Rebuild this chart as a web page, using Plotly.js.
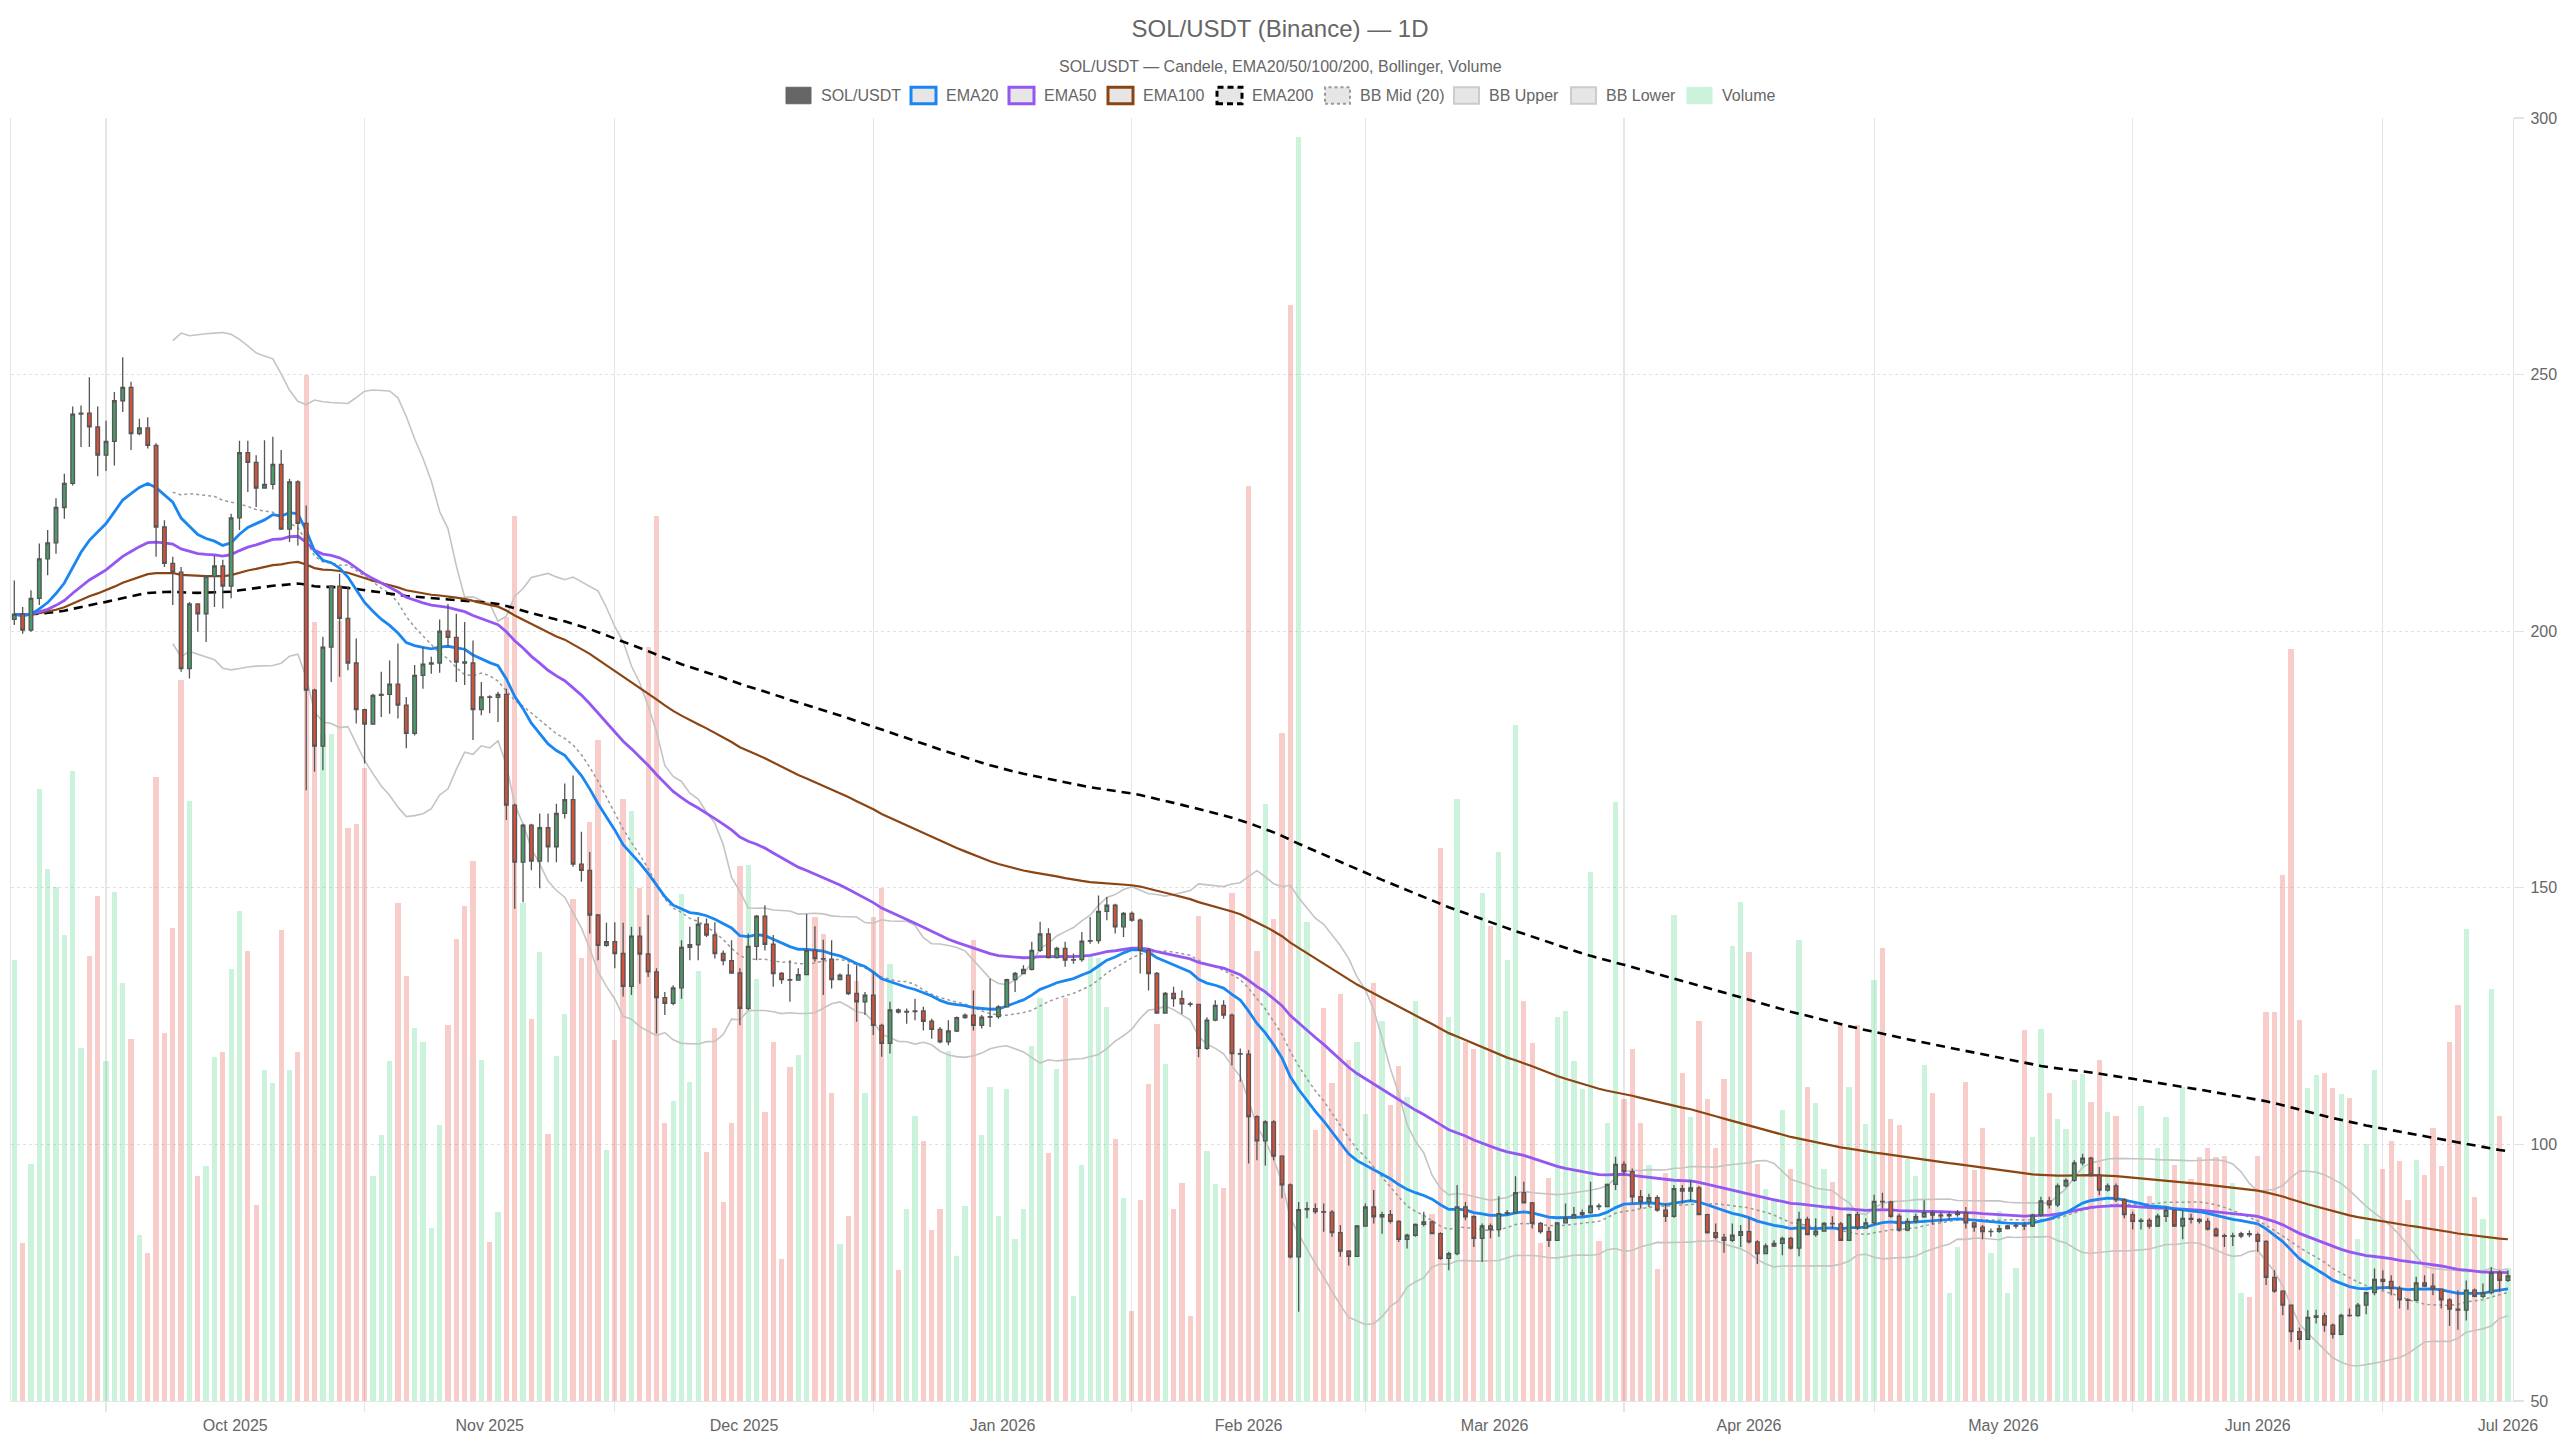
<!DOCTYPE html>
<html><head><meta charset="utf-8">
<script src="https://cdn.plot.ly/plotly-3.0.1.min.js"></script>
<style>html,body{margin:0;padding:0;background:#fff}#chart{width:2560px;height:1440px}</style>
</head><body><div id="chart"></div>
<script>
// ---------------- DATA ----------------
const dates = [
"2025-09-20","2025-09-21","2025-09-22","2025-09-23","2025-09-24","2025-09-25","2025-09-26","2025-09-27","2025-09-28","2025-09-29","2025-09-30",
"2025-10-01","2025-10-02","2025-10-03","2025-10-04","2025-10-05","2025-10-06","2025-10-07","2025-10-08","2025-10-09","2025-10-10","2025-10-11","2025-10-12","2025-10-13","2025-10-14","2025-10-15","2025-10-16","2025-10-17","2025-10-18","2025-10-19","2025-10-20","2025-10-21","2025-10-22","2025-10-23","2025-10-24","2025-10-25","2025-10-26","2025-10-27","2025-10-28","2025-10-29","2025-10-30","2025-10-31",
"2025-11-01","2025-11-02","2025-11-03","2025-11-04","2025-11-05","2025-11-06","2025-11-07","2025-11-08","2025-11-09","2025-11-10","2025-11-11","2025-11-12","2025-11-13","2025-11-14","2025-11-15","2025-11-16","2025-11-17","2025-11-18","2025-11-19","2025-11-20","2025-11-21","2025-11-22","2025-11-23","2025-11-24","2025-11-25","2025-11-26","2025-11-27","2025-11-28","2025-11-29","2025-11-30",
"2025-12-01","2025-12-02","2025-12-03","2025-12-04","2025-12-05","2025-12-06","2025-12-07","2025-12-08","2025-12-09","2025-12-10","2025-12-11","2025-12-12","2025-12-13","2025-12-14","2025-12-15","2025-12-16","2025-12-17","2025-12-18","2025-12-19","2025-12-20","2025-12-21","2025-12-22","2025-12-23","2025-12-24","2025-12-25","2025-12-26","2025-12-27","2025-12-28","2025-12-29","2025-12-30","2025-12-31",
"2026-01-01","2026-01-02","2026-01-03","2026-01-04","2026-01-05","2026-01-06","2026-01-07","2026-01-08","2026-01-09","2026-01-10","2026-01-11","2026-01-12","2026-01-13","2026-01-14","2026-01-15","2026-01-16","2026-01-17","2026-01-18","2026-01-19","2026-01-20","2026-01-21","2026-01-22","2026-01-23","2026-01-24","2026-01-25","2026-01-26","2026-01-27","2026-01-28","2026-01-29","2026-01-30","2026-01-31",
"2026-02-01","2026-02-02","2026-02-03","2026-02-04","2026-02-05","2026-02-06","2026-02-07","2026-02-08","2026-02-09","2026-02-10","2026-02-11","2026-02-12","2026-02-13","2026-02-14","2026-02-15","2026-02-16","2026-02-17","2026-02-18","2026-02-19","2026-02-20","2026-02-21","2026-02-22","2026-02-23","2026-02-24","2026-02-25","2026-02-26","2026-02-27","2026-02-28",
"2026-03-01","2026-03-02","2026-03-03","2026-03-04","2026-03-05","2026-03-06","2026-03-07","2026-03-08","2026-03-09","2026-03-10","2026-03-11","2026-03-12","2026-03-13","2026-03-14","2026-03-15","2026-03-16","2026-03-17","2026-03-18","2026-03-19","2026-03-20","2026-03-21","2026-03-22","2026-03-23","2026-03-24","2026-03-25","2026-03-26","2026-03-27","2026-03-28","2026-03-29","2026-03-30","2026-03-31",
"2026-04-01","2026-04-02","2026-04-03","2026-04-04","2026-04-05","2026-04-06","2026-04-07","2026-04-08","2026-04-09","2026-04-10","2026-04-11","2026-04-12","2026-04-13","2026-04-14","2026-04-15","2026-04-16","2026-04-17","2026-04-18","2026-04-19","2026-04-20","2026-04-21","2026-04-22","2026-04-23","2026-04-24","2026-04-25","2026-04-26","2026-04-27","2026-04-28","2026-04-29","2026-04-30",
"2026-05-01","2026-05-02","2026-05-03","2026-05-04","2026-05-05","2026-05-06","2026-05-07","2026-05-08","2026-05-09","2026-05-10","2026-05-11","2026-05-12","2026-05-13","2026-05-14","2026-05-15","2026-05-16","2026-05-17","2026-05-18","2026-05-19","2026-05-20","2026-05-21","2026-05-22","2026-05-23","2026-05-24","2026-05-25","2026-05-26","2026-05-27","2026-05-28","2026-05-29","2026-05-30","2026-05-31",
"2026-06-01","2026-06-02","2026-06-03","2026-06-04","2026-06-05","2026-06-06","2026-06-07","2026-06-08","2026-06-09","2026-06-10","2026-06-11","2026-06-12","2026-06-13","2026-06-14","2026-06-15","2026-06-16","2026-06-17","2026-06-18","2026-06-19","2026-06-20","2026-06-21","2026-06-22","2026-06-23","2026-06-24","2026-06-25","2026-06-26","2026-06-27","2026-06-28","2026-06-29","2026-06-30",
"2026-07-01","2026-07-02","2026-07-03","2026-07-04","2026-07-05","2026-07-06","2026-07-07","2026-07-08","2026-07-09","2026-07-10","2026-07-11","2026-07-12","2026-07-13","2026-07-14","2026-07-15","2026-07-16"
];

const opens = [
202.3,203.3,200.2,206.4,214.1,217.2,224.1,228.8,242.3,242.5,
239.8,234.3,237.0,244.9,247.5,238.5,239.6,236.2,220.3,213.2,
211.5,192.7,205.3,203.4,210.7,212.7,208.8,222.1,234.8,232.9,
227.9,228.6,232.5,219.9,229.1,221.0,188.5,177.6,196.9,208.8,
202.5,193.8,184.7,181.9,187.5,187.7,189.7,185.6,180.1,191.4,
193.6,193.8,200.0,198.8,194.0,193.8,184.7,187.2,187.1,187.7,
166.1,155.0,162.2,155.2,161.7,158.0,164.5,167.2,154.6,153.4,
144.7,138.8,139.5,137.2,130.8,140.6,137.1,133.6,128.6,127.5,
130.5,138.4,138.9,142.9,140.8,137.2,135.8,133.4,126.5,138.6,
144.5,139.0,133.3,132.1,132.0,133.1,137.8,136.2,136.1,132.1,
133.0,129.4,127.8,129.1,123.2,119.7,126.2,125.8,125.9,126.0,
124.0,122.4,120.0,122.1,124.7,125.2,123.2,124.8,124.9,126.8,
132.1,133.3,134.1,137.8,141.0,136.4,138.2,135.9,136.0,139.6,
139.7,145.4,146.6,142.4,145.0,143.7,137.8,133.3,125.6,129.4,
128.4,127.4,127.3,118.7,124.2,127.1,125.2,117.7,117.6,105.4,
100.7,104.4,97.7,92.1,78.1,87.3,87.5,86.9,86.8,82.8,
79.2,78.2,84.1,87.8,85.9,86.3,85.0,81.5,82.3,84.4,
84.9,82.6,77.8,78.7,87.8,85.9,81.7,84.1,83.4,86.5,
86.7,90.6,88.6,84.6,83.0,81.3,84.7,85.7,86.3,86.7,
88.0,87.9,92.2,96.1,94.7,89.8,88.8,89.6,87.2,86.0,
91.4,90.9,91.5,86.3,82.8,81.9,81.3,82.3,83.0,81.0,
78.7,80.2,80.7,81.7,79.8,85.4,82.4,83.1,84.6,84.5,
81.3,86.3,83.7,84.7,88.9,88.8,86.0,83.3,85.0,85.9,
86.7,86.2,86.1,86.3,86.7,84.7,83.9,83.0,83.05,83.6,
84.1,84.2,84.1,86.2,89.0,88.2,91.9,93.0,96.4,97.3,
94.0,91.1,91.9,89.2,86.3,85.0,85.2,84.1,86.0,87.2,
84.1,85.6,85.4,85.0,83.5,82.2,82.1,82.15,82.6,82.4,
81.1,74.1,71.4,68.7,63.5,62.0,66.3,66.6,64.8,63.0,
66.7,66.65,68.7,71.1,73.7,73.3,71.9,69.7,69.6,73.0,
72.4,71.8,69.7,67.9,67.7,71.6,70.4,71.1,75.0,73.5
];

const highs = [
209.9,204.7,208.0,217.1,219.7,225.9,230.7,243.8,244.0,249.5,
243.8,241.0,246.6,253.4,248.6,241.4,241.7,236.6,221.6,214.5,
212.5,205.7,205.3,210.9,214.7,213.9,222.9,237.1,237.1,234.3,
237.2,237.9,235.3,229.7,229.4,224.5,188.8,198.9,209.0,211.2,
208.6,198.6,184.9,187.8,192.1,194.3,197.6,187.2,193.4,196.9,
195.0,202.3,205.3,203.4,201.8,198.2,190.1,187.5,188.2,188.8,
166.4,162.5,162.5,164.5,164.5,166.4,170.3,171.9,160.9,157.0,
144.9,143.2,143.3,143.2,142.4,142.4,144.7,134.3,129.7,131.0,
139.8,142.4,144.3,144.0,143.3,137.8,139.8,134.3,141.1,144.7,
146.6,140.8,133.6,135.9,134.3,144.9,142.5,139.9,139.8,133.3,
135.2,134.9,129.7,133.6,123.5,127.8,126.5,126.5,128.4,126.8,
124.5,122.9,124.2,124.9,125.5,130.0,125.2,132.3,127.1,132.3,
133.6,134.9,139.5,143.4,142.1,138.5,139.5,137.2,141.4,144.3,
148.5,148.2,146.9,145.3,145.4,144.0,138.2,133.6,129.7,130.7,
130.0,127.8,127.4,124.8,128.1,128.1,125.5,118.7,118.4,105.7,
104.7,104.7,97.9,92.4,88.8,88.8,88.5,88.5,87.2,84.3,
79.4,84.3,88.5,91.1,86.9,87.2,85.2,82.6,84.6,86.9,
85.2,82.9,79.1,92.1,88.8,86.2,84.6,84.6,89.9,87.2,
93.8,92.7,88.8,84.9,83.9,84.9,88.5,87.8,87.3,92.7,
88.5,92.4,97.6,96.7,95.3,91.1,90.4,90.1,88.5,92.1,
92.1,93.0,91.9,86.5,84.6,82.6,84.6,84.3,85.6,81.3,
80.7,81.3,82.0,82.0,86.9,85.9,85.6,84.9,86.0,84.9,
86.5,86.9,85.6,90.2,90.6,89.0,86.5,85.6,86.5,89.1,
87.2,86.9,86.9,87.2,87.8,84.9,84.3,83.6,84.3,84.3,
84.6,84.9,86.5,89.8,89.8,92.4,93.4,96.9,98.2,97.6,
95.6,92.4,92.4,89.5,86.9,85.6,85.6,86.5,87.8,87.3,
87.2,86.5,85.6,85.6,83.8,82.6,82.8,83.0,83.2,82.8,
81.3,75.5,71.6,68.8,64.3,67.7,67.8,67.2,65.1,67.0,
68.0,69.1,71.3,75.8,75.5,74.5,72.4,70.0,74.2,74.5,
74.8,71.9,70.0,71.6,73.5,71.9,72.9,76.1,75.5,75.5
];

const lows = [
201.2,199.5,199.9,205.1,210.9,215.1,221.9,228.4,235.9,235.9,
230.2,231.2,232.3,242.7,235.3,238.2,235.6,214.5,212.5,205.1,
192.1,190.8,199.9,197.9,204.7,204.4,206.4,219.7,227.1,224.2,
227.8,227.6,219.7,217.4,216.7,169.0,172.6,172.9,190.1,191.1,
192.4,182.0,174.2,181.7,183.3,183.9,183.0,177.2,179.7,188.8,
191.7,191.9,196.9,190.1,189.5,178.8,183.6,184.0,182.3,163.2,
145.9,147.2,153.4,149.9,155.0,155.0,163.5,154.1,151.2,141.1,
135.9,138.5,134.3,128.8,129.1,131.3,132.6,121.6,125.2,127.1,
128.4,135.9,135.9,140.4,136.2,134.9,133.3,123.2,126.2,135.9,
137.8,130.7,131.3,127.8,131.9,133.0,135.6,129.1,130.4,132.0,
129.1,123.9,125.2,121.3,117.1,117.7,125.5,123.5,124.2,122.2,
120.6,119.7,119.3,121.9,124.5,122.2,122.6,122.9,124.5,126.7,
129.7,133.2,133.9,137.5,136.2,136.2,134.6,135.2,135.6,139.1,
139.1,143.7,141.1,140.4,143.4,133.3,130.0,125.5,125.5,126.8,
125.4,126.8,117.0,118.4,124.0,124.5,115.4,112.2,96.3,96.9,
95.9,96.9,89.5,77.8,67.4,85.6,86.5,83.0,82.0,78.1,
76.4,78.1,84.0,84.6,82.6,84.6,81.0,79.7,82.0,84.0,
82.5,77.5,75.5,78.4,85.2,80.0,77.1,81.7,82.0,86.2,
86.5,88.5,83.6,82.6,80.0,81.2,84.6,85.6,85.9,86.5,
87.2,87.8,91.1,94.0,88.5,87.5,87.8,86.9,84.9,85.7,
88.5,88.8,86.2,82.6,81.5,78.9,81.0,80.0,80.7,76.7,
78.6,80.0,78.4,79.5,78.2,82.3,82.0,83.0,83.6,81.2,
81.2,83.3,83.6,84.3,87.5,85.7,83.0,83.1,84.6,85.7,
84.4,84.9,85.4,85.9,83.6,83.0,81.5,82.0,82.8,83.4,
83.6,83.3,83.9,85.9,87.5,87.8,91.6,92.7,95.9,93.7,
90.1,90.8,88.8,85.6,83.4,83.4,83.6,83.9,84.9,83.9,
81.5,84.6,84.6,83.2,82.0,80.0,80.2,81.7,81.9,79.1,
72.6,71.1,66.7,61.5,60.0,61.9,65.1,63.5,62.2,62.8,
66.4,66.4,66.9,70.6,71.6,70.6,68.0,67.8,69.5,72.2,
70.6,68.0,64.6,63.9,65.7,70.2,70.0,70.8,71.3,73.2
];

const closes = [
203.3,200.2,206.4,214.1,217.2,224.1,228.8,242.3,242.5,239.8,
234.3,237.0,244.9,247.5,238.5,239.6,236.2,220.3,213.2,211.5,
192.7,205.3,203.4,210.7,212.7,208.8,222.1,234.8,232.9,227.9,
228.6,232.5,219.9,229.1,221.0,188.5,177.6,196.9,208.8,202.5,
193.8,184.7,181.9,187.5,187.7,189.7,185.6,180.1,191.4,193.6,
193.8,200.0,198.8,194.0,193.8,184.7,187.2,187.1,187.7,166.1,
155.0,162.2,155.2,161.7,158.0,164.5,167.2,154.6,153.4,144.7,
138.8,139.5,137.2,130.8,140.6,137.1,133.6,128.6,127.5,130.5,
138.4,138.9,142.9,140.8,137.2,135.8,133.4,126.5,138.6,144.5,
139.0,133.3,132.1,132.0,133.1,137.8,136.2,136.1,132.1,133.0,
129.4,127.8,129.1,123.2,119.7,126.2,125.8,125.9,126.0,124.0,
122.4,120.0,122.1,124.7,125.2,123.2,124.8,124.9,126.8,132.1,
133.3,134.1,137.8,141.0,136.4,138.2,135.9,136.0,139.6,139.7,
145.4,146.6,142.4,145.0,143.7,137.8,133.3,125.6,129.4,128.4,
127.4,127.3,118.7,124.2,127.1,125.2,117.7,117.6,105.4,100.7,
104.4,97.7,92.1,78.1,87.3,87.5,86.9,86.8,82.8,79.2,
78.2,84.1,87.8,85.9,86.3,85.0,81.5,82.3,84.4,84.9,
82.6,77.8,78.7,87.8,85.9,81.7,84.1,83.4,86.5,86.7,
90.6,88.6,84.6,83.0,81.3,84.7,85.7,86.3,86.7,88.0,
87.9,92.2,96.1,94.7,89.8,88.8,89.6,87.2,86.0,91.4,
90.9,91.5,86.3,82.8,81.9,81.3,82.3,83.0,81.0,78.7,
80.2,80.7,81.7,79.8,85.4,82.4,83.1,84.6,84.5,81.3,
86.3,83.7,84.7,88.9,88.8,86.0,83.3,85.0,85.9,86.7,
86.2,86.1,86.3,86.7,84.7,83.9,83.0,83.05,83.6,84.1,
84.2,84.1,86.2,89.0,88.2,91.9,93.0,96.4,97.3,94.0,
91.1,91.9,89.2,86.3,85.0,85.2,84.1,86.0,87.2,84.1,
85.6,85.4,85.0,83.5,82.2,82.1,82.15,82.6,82.4,81.1,
74.1,71.4,68.7,63.5,62.0,66.3,66.6,64.8,63.0,66.7,
66.65,68.7,71.1,73.7,73.3,71.9,69.7,69.6,73.0,72.4,
71.8,69.7,67.9,67.7,71.6,70.4,71.1,75.0,73.5,74.4
];

// volume (millions SOL)
const volumes = [
3.44,1.23,1.85,4.77,4.15,4.01,3.63,4.91,2.75,3.47,
3.94,2.65,3.97,3.26,2.82,1.29,1.15,4.86,2.87,3.69,
5.62,4.68,1.75,1.83,2.68,2.72,3.37,3.82,3.51,1.53,
2.58,2.48,3.67,2.58,2.72,8.00,6.07,5.20,5.20,6.08,
4.47,4.50,4.93,1.75,2.07,2.65,3.88,3.31,2.91,2.80,
1.35,2.15,2.93,3.60,3.86,4.21,2.66,1.24,1.47,6.11,
6.90,3.88,2.98,3.50,2.08,2.69,3.02,3.91,3.45,4.51,
5.15,1.96,2.81,4.69,4.60,4.00,5.88,6.90,2.17,2.34,
3.95,2.49,3.35,1.94,2.91,1.55,2.17,4.17,4.18,3.29,
2.25,2.80,1.11,2.60,2.70,3.42,3.77,3.64,2.40,1.22,
1.44,3.27,2.40,3.77,4.00,3.41,1.02,1.50,2.22,2.03,
1.33,1.50,2.73,1.13,1.52,3.59,2.07,2.45,1.44,2.43,
1.26,1.50,2.77,3.14,1.93,2.59,3.14,0.82,1.84,3.47,
3.45,3.07,2.04,1.58,0.70,1.57,2.47,2.94,2.63,1.50,
1.70,0.66,3.78,1.95,1.69,1.66,3.96,2.50,7.13,3.51,
4.65,3.76,5.21,8.54,9.85,3.73,2.11,3.06,2.48,3.17,
2.66,2.80,2.24,3.26,2.96,2.31,2.61,2.37,3.12,1.46,
1.46,4.31,2.99,4.69,2.80,2.74,3.96,3.70,4.28,3.44,
5.27,3.12,2.79,1.23,1.74,2.99,3.04,2.65,2.43,4.12,
1.25,2.17,4.67,2.35,2.74,2.17,1.84,1.03,1.78,3.79,
2.56,2.21,2.96,2.35,1.97,2.51,3.55,3.89,3.50,1.85,
1.65,1.58,2.27,1.81,3.59,2.45,2.32,1.81,1.71,2.93,
2.45,2.93,2.16,3.28,3.53,2.20,2.15,1.89,1.75,2.62,
2.40,1.49,0.84,1.20,2.49,1.80,2.13,1.15,1.48,0.84,
1.04,2.89,2.06,2.90,2.40,2.20,2.12,2.50,2.55,2.33,
2.66,2.25,2.22,1.58,1.50,2.30,1.60,1.97,2.21,1.84,
2.45,1.73,1.90,1.97,1.90,1.91,1.70,0.84,0.81,1.91,
3.03,3.03,4.10,5.86,2.97,2.44,2.54,2.56,2.44,2.39,
2.36,1.26,2.00,2.58,1.81,2.03,1.87,1.57,1.88,1.76,
2.13,1.83,2.80,3.09,3.68,1.59,1.42,3.21,2.22,1.04
];

const priceTicks = [50, 100, 150, 200, 250, 300];
const titleText = 'SOL/USDT (Binance) — 1D';
const subtitleText = 'SOL/USDT — Candele, EMA20/50/100/200, Bollinger, Volume';
const legendLabels = ['SOL/USDT','EMA20','EMA50','EMA100','EMA200','BB Mid (20)','BB Upper','BB Lower','Volume'];

// ---------------- indicators derived from the closes ----------------
function ema(src, n) {
  const a = 2 / (n + 1); const out = []; let prev = src[0];
  for (let i = 0; i < src.length; i++) { prev = (i === 0) ? src[0] : prev + a * (src[i] - prev); out.push(prev); }
  return out;
}
function bollinger(src, n, k) {
  const mid = [], up = [], lo = [];
  for (let i = 0; i < src.length; i++) {
    if (i < n - 1) { mid.push(null); up.push(null); lo.push(null); continue; }
    let s = 0; for (let j = i - n + 1; j <= i; j++) s += src[j];
    const m = s / n; let v = 0;
    for (let j = i - n + 1; j <= i; j++) v += (src[j] - m) * (src[j] - m);
    const sd = Math.sqrt(v / n);
    mid.push(m); up.push(m + k * sd); lo.push(m - k * sd);
  }
  return {mid, up, lo};
}
const ema20 = ema(closes, 20), ema50 = ema(closes, 50), ema100 = ema(closes, 100), ema200 = ema(closes, 200);
const bb = bollinger(closes, 20, 2);

// ---------------- styles ----------------
const C = {
  ema20: '#1a86f2', ema50: '#9557f2', ema100: '#8b4513', ema200: '#000000',
  bbMid: '#9a9a9a', bbBand: '#c4c4c4',
  up: '#4e9a6b', down: '#d4523b', wick: '#555555',
  volUp: 'rgba(46,204,113,0.25)', volDown: 'rgba(231,76,60,0.28)', text: '#666666', grid: '#e6e6e6'
};
const volColors = closes.map((c, i) => c >= opens[i] ? C.volUp : C.volDown);

const traces = [
  {type: 'bar', x: dates, y: volumes, xaxis: 'x', yaxis: 'y', marker: {color: volColors, line: {width: 0}},
   width: 0.63 * 86400000, hoverinfo: 'skip', showlegend: false},
  {type: 'scatter', mode: 'lines', x: dates, y: bb.lo, yaxis: 'y2', line: {color: C.bbBand, width: 1.6}, hoverinfo: 'skip', showlegend: false},
  {type: 'scatter', mode: 'lines', x: dates, y: bb.up, yaxis: 'y2', line: {color: C.bbBand, width: 1.6}, hoverinfo: 'skip', showlegend: false},
  {type: 'scatter', mode: 'lines', x: dates, y: bb.mid, yaxis: 'y2', line: {color: C.bbMid, width: 1.5, dash: '3px,3px'}, hoverinfo: 'skip', showlegend: false},
  {type: 'scatter', mode: 'lines', x: dates, y: ema200, yaxis: 'y2', line: {color: C.ema200, width: 2.6, dash: '9px,6px'}, hoverinfo: 'skip', showlegend: false},
  {type: 'scatter', mode: 'lines', x: dates, y: ema100, yaxis: 'y2', line: {color: C.ema100, width: 2.2}, hoverinfo: 'skip', showlegend: false},
  {type: 'scatter', mode: 'lines', x: dates, y: ema50, yaxis: 'y2', line: {color: C.ema50, width: 2.8}, hoverinfo: 'skip', showlegend: false},
  {type: 'scatter', mode: 'lines', x: dates, y: ema20, yaxis: 'y2', line: {color: C.ema20, width: 2.8}, hoverinfo: 'skip', showlegend: false},
  {type: 'candlestick', x: dates, open: opens, high: highs, low: lows, close: closes, xaxis: 'x', yaxis: 'y3',
   increasing: {line: {color: C.wick, width: 1.3}, fillcolor: C.up},
   decreasing: {line: {color: C.wick, width: 1.3}, fillcolor: C.down},
   whiskerwidth: 0, hoverinfo: 'skip', showlegend: false}
];

// ---------------- layout helpers (pixel -> paper) ----------------
const ML = 11, MR = 47, MT = 118, MB = 39, W = 2560, H = 1440;
const PW = W - ML - MR, PH = H - MT - MB;
const px = x => (x - ML) / PW;
const py = y => (H - MB - y) / PH;

const legendItems = [
  {label: legendLabels[0], box: 786, fill: '#666666', line: '#666666', lw: 1, dash: 'solid'},
  {label: legendLabels[1], box: 911, fill: '#e6e6e6', line: C.ema20, lw: 3, dash: 'solid'},
  {label: legendLabels[2], box: 1009, fill: '#e6e6e6', line: C.ema50, lw: 3, dash: 'solid'},
  {label: legendLabels[3], box: 1108, fill: '#e6e6e6', line: C.ema100, lw: 3, dash: 'solid'},
  {label: legendLabels[4], box: 1217, fill: '#e6e6e6', line: '#000000', lw: 3, dash: '6px,4px'},
  {label: legendLabels[5], box: 1325, fill: '#e6e6e6', line: '#9a9a9a', lw: 2, dash: '3px,3px'},
  {label: legendLabels[6], box: 1454, fill: '#e6e6e6', line: '#cccccc', lw: 2, dash: 'solid'},
  {label: legendLabels[7], box: 1571, fill: '#e6e6e6', line: '#cccccc', lw: 2, dash: 'solid'},
  {label: legendLabels[8], box: 1687, fill: 'rgb(204,242,220)', line: 'rgb(204,242,220)', lw: 1, dash: 'solid'}
];
const legendY = 95.5, boxW = 25, boxH = 16.5;
const shapes = [], annotations = [];
legendItems.forEach(it => {
  shapes.push({type: 'rect', xref: 'paper', yref: 'paper',
    x0: px(it.box), x1: px(it.box + boxW), y0: py(legendY + boxH / 2), y1: py(legendY - boxH / 2),
    fillcolor: it.fill, line: {color: it.line, width: it.lw, dash: it.dash}, layer: 'above'});
  annotations.push({xref: 'paper', yref: 'paper', x: px(it.box + boxW + 8), y: py(legendY),
    xanchor: 'left', yanchor: 'middle', text: it.label, showarrow: false,
    font: {size: 16, color: C.text}});
});
annotations.push({xref: 'paper', yref: 'paper', x: px(W / 2), y: py(66.5), xanchor: 'center', yanchor: 'middle',
  text: subtitleText, showarrow: false, font: {size: 16, color: C.text}});

const layout = {
  width: W, height: H,
  margin: {l: ML, r: MR, t: MT, b: MB, pad: 0},
  paper_bgcolor: '#ffffff', plot_bgcolor: '#ffffff',
  font: {family: 'Liberation Sans, Arial, Helvetica, sans-serif', size: 16, color: C.text},
  title: {text: titleText, x: 0.5, xref: 'container', xanchor: 'center', y: 1 - 28.5 / H, yref: 'container', yanchor: 'middle',
    font: {size: 24, color: C.text}},
  showlegend: false, hovermode: false, boxgap: 0.38, bargap: 0,
  xaxis: {type: 'date', range: ['2025-09-19 14:30', '2026-07-16 14:30'],
    ticklabelmode: 'period', dtick: 'M1', tick0: '2025-10-01', tickformat: '%b %Y',
    showgrid: true, gridcolor: C.grid, gridwidth: 1.2,
    ticks: 'outside', ticklen: 10, tickcolor: C.grid, tickwidth: 1.2,
    tickfont: {size: 16, color: C.text},
    showline: true, linecolor: C.grid, linewidth: 1.2, zeroline: false,
    rangeslider: {visible: false}, fixedrange: true},
  yaxis: {range: [0, 10], visible: false, showgrid: false, zeroline: false, fixedrange: true},
  yaxis2: {overlaying: 'y', side: 'right', range: [50, 300], tickvals: priceTicks,
    showgrid: true, gridcolor: '#e2e2e2', gridwidth: 1.2, griddash: '3px,3px',
    ticks: 'outside', ticklen: 10, tickcolor: '#e2e2e2', tickwidth: 1.2,
    tickfont: {size: 16, color: C.text}, ticklabelstandoff: 3,
    showline: true, mirror: true, linecolor: C.grid, linewidth: 1.2, zeroline: false, fixedrange: true},
  yaxis3: {overlaying: 'y', range: [50, 300], visible: false, showgrid: false, zeroline: false, fixedrange: true},
  shapes: shapes, annotations: annotations
};

Plotly.newPlot('chart', traces, layout, {displayModeBar: false, staticPlot: true});
</script>
</body></html>
